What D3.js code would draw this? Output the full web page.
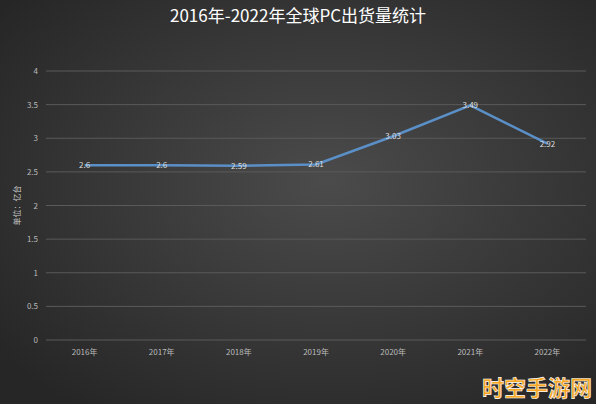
<!DOCTYPE html>
<html><head><meta charset="utf-8">
<script src="https://cdn.jsdelivr.net/npm/d3@7"></script>
<style>body{margin:0;background:#333}svg{display:block}</style>
</head><body><svg width="596" height="404"></svg>
<script>
const years = ["2016年","2017年","2018年","2019年","2020年","2021年","2022年"];
const shipments = [2.6, 2.6, 2.59, 2.61, 3.03, 3.49, 2.92];
const yTicks = [0, 0.5, 1, 1.5, 2, 2.5, 3, 3.5, 4];

const width = 596, height = 404;
const margin = {top: 71, right: 10, bottom: 64, left: 46};
const svg = d3.select("svg");

const defs = svg.append("defs");
const grad = defs.append("radialGradient").attr("id", "bg").attr("cx", "55%").attr("cy", "45%").attr("r", "70%");
grad.append("stop").attr("offset", "0%").attr("stop-color", "#4b4b4b");
grad.append("stop").attr("offset", "100%").attr("stop-color", "#262626");
svg.append("rect").attr("width", width).attr("height", height).attr("fill", "url(#bg)");

const x = d3.scaleBand().domain(years).range([margin.left, width - margin.right]);
const y = d3.scaleLinear().domain([0, 4]).range([height - margin.bottom, margin.top]);

// gridlines
svg.append("g").selectAll("line").data(yTicks).join("line")
  .attr("x1", margin.left).attr("x2", width - margin.right)
  .attr("y1", d => y(d)).attr("y2", d => y(d))
  .attr("stroke", "#5a5a5a").attr("stroke-width", 1);

const yAxis = svg.append("g").attr("transform", `translate(${margin.left},0)`)
  .call(d3.axisLeft(y).tickValues(yTicks).tickSize(0).tickPadding(8).tickFormat(d3.format("")));
yAxis.select(".domain").remove();
yAxis.selectAll("text").attr("fill", "#bbb").style("font-size", "8px").style("font-family", "Noto Sans CJK SC");

const xAxis = svg.append("g").attr("transform", `translate(0,${height - margin.bottom})`)
  .call(d3.axisBottom(x).tickSize(0).tickPadding(9));
xAxis.select(".domain").remove();
xAxis.selectAll("text").attr("fill", "#bbb").style("font-size", "8px").style("font-family", "Noto Sans CJK SC");

const cx = d => x(d) + x.bandwidth() / 2;
svg.append("path").datum(shipments)
  .attr("fill", "none").attr("stroke", "#5b8fc7").attr("stroke-width", 2.5)
  .attr("d", d3.line().x((d, i) => cx(years[i])).y(d => y(d)));

svg.append("g").selectAll("text").data(shipments).join("text")
  .attr("x", (d, i) => cx(years[i])).attr("y", d => y(d) + 3)
  .attr("text-anchor", "middle").attr("fill", "#ddd")
  .style("font-size", "8px").style("font-family", "Noto Sans CJK SC")
  .text(d => d);

svg.append("text").attr("transform", `translate(20,${(margin.top + height - margin.bottom) / 2}) rotate(-90)`)
  .attr("text-anchor", "middle").attr("fill", "#ccc")
  .style("font-size", "8px").style("font-family", "Noto Sans CJK SC").text("单位：亿台");

svg.append("text").attr("x", width / 2).attr("y", 22).attr("text-anchor", "middle")
  .attr("fill", "#fff").style("font-size", "17px").style("font-family", "Noto Sans CJK SC")
  .text("2016年-2022年全球PC出货量统计");

svg.append("text").attr("x", 592).attr("y", 396).attr("text-anchor", "end")
  .attr("fill", "#f5a623").attr("stroke", "#fff").attr("stroke-width", 0.6)
  .style("font-size", "22px").style("font-weight", "bold").style("font-family", "Noto Sans CJK SC")
  .text("时空手游网");
</script></body></html>
